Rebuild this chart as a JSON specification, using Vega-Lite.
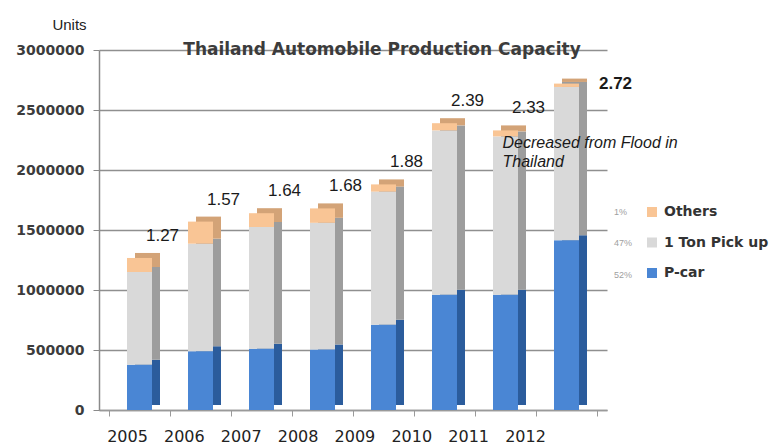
{
  "$schema": "https://vega.github.io/schema/vega-lite/v6.json",
  "autosize": "none",
  "width": 508,
  "height": 360,
  "padding": {"left": 99, "top": 50, "right": 163, "bottom": 38},
  "background": "white",
  "config": {"view": {"stroke": null}},
  "title": {
    "text": "Thailand Automobile Production Capacity",
    "font": "DejaVu Sans",
    "fontSize": 17,
    "fontWeight": "bold",
    "color": "#3c3c3c",
    "anchor": "middle",
    "dx": 29,
    "offset": -42
  },
  "datasets": {
    "parts": [
      {"year": "2005", "type": "P-car", "pct": "52%", "value": 377000},
      {"year": "2005", "type": "1 Ton Pick up", "pct": "47%", "value": 773000},
      {"year": "2005", "type": "Others", "pct": "1%", "value": 117000},
      {"year": "2006", "type": "P-car", "pct": "52%", "value": 489000},
      {"year": "2006", "type": "1 Ton Pick up", "pct": "47%", "value": 897000},
      {"year": "2006", "type": "Others", "pct": "1%", "value": 184000},
      {"year": "2007", "type": "P-car", "pct": "52%", "value": 510000},
      {"year": "2007", "type": "1 Ton Pick up", "pct": "47%", "value": 1015000},
      {"year": "2007", "type": "Others", "pct": "1%", "value": 115000},
      {"year": "2008", "type": "P-car", "pct": "52%", "value": 505000},
      {"year": "2008", "type": "1 Ton Pick up", "pct": "47%", "value": 1055000},
      {"year": "2008", "type": "Others", "pct": "1%", "value": 120000},
      {"year": "2009", "type": "P-car", "pct": "52%", "value": 710000},
      {"year": "2009", "type": "1 Ton Pick up", "pct": "47%", "value": 1110000},
      {"year": "2009", "type": "Others", "pct": "1%", "value": 60000},
      {"year": "2010", "type": "P-car", "pct": "52%", "value": 960000},
      {"year": "2010", "type": "1 Ton Pick up", "pct": "47%", "value": 1370000},
      {"year": "2010", "type": "Others", "pct": "1%", "value": 60000},
      {"year": "2011", "type": "P-car", "pct": "52%", "value": 960000},
      {"year": "2011", "type": "1 Ton Pick up", "pct": "47%", "value": 1320000},
      {"year": "2011", "type": "Others", "pct": "1%", "value": 50000},
      {"year": "2012", "type": "P-car", "pct": "52%", "value": 1414000},
      {"year": "2012", "type": "1 Ton Pick up", "pct": "47%", "value": 1278000},
      {"year": "2012", "type": "Others", "pct": "1%", "value": 28000}
    ],
    "totals": [
      {"year": "2005", "total": 1267000, "label": "1.27"},
      {"year": "2006", "total": 1570000, "label": "1.57"},
      {"year": "2007", "total": 1640000, "label": "1.64"},
      {"year": "2008", "total": 1680000, "label": "1.68"},
      {"year": "2009", "total": 1880000, "label": "1.88"},
      {"year": "2010", "total": 2390000, "label": "2.39"},
      {"year": "2011", "total": 2330000, "label": "2.33"},
      {"year": "2012", "total": 2720000, "label": "2.72"}
    ],
    "notes": [
      {"year": "2011", "y": 2290000, "note": "Decreased from Flood in\nThailand"}
    ]
  },
  "encoding": {
    "x": {
      "field": "year",
      "type": "nominal",
      "scale": {"paddingInner": 0, "paddingOuter": 0.164},
      "axis": {
        "title": null,
        "labelAngle": 0,
        "labelFont": "DejaVu Sans",
        "labelFontSize": 16,
        "labelColor": "#222222",
        "labelPadding": 12,
        "labelOffset": {"expr": "-12.5 - 4.14 * (toNumber(datum.value) - 2005)"},
        "domainColor": "#9a9a9a",
        "domainWidth": 1.5,
        "tickColor": "#9a9a9a",
        "tickBand": "extent",
        "tickSize": 6,
        "grid": false
      }
    }
  },
  "layer": [
    {
      "data": {"name": "parts"},
      "transform": [{"calculate": "indexof(['P-car','1 Ton Pick up','Others'], datum.type)", "as": "idx"}],
      "mark": {"type": "bar", "width": 25, "xOffset": 8, "x2Offset": 8, "yOffset": -5, "y2Offset": -5},
      "encoding": {
        "y": {
          "field": "value",
          "type": "quantitative",
          "stack": "zero",
          "scale": {"domain": [0, 3000000]},
          "axis": {
            "title": "Units",
            "titleAngle": 0,
            "titleX": -30,
            "titleY": -26,
            "titleAlign": "center",
            "titleBaseline": "middle",
            "titleFont": "Liberation Sans",
            "titleFontSize": 15,
            "titleFontWeight": "normal",
            "titleColor": "#222222",
            "values": [0, 500000, 1000000, 1500000, 2000000, 2500000, 3000000],
            "format": "d",
            "labelFont": "DejaVu Sans",
            "labelFontSize": 14,
            "labelFontWeight": "bold",
            "labelColor": "#3c3c3c",
            "labelPadding": 9,
            "tickSize": 6,
            "tickColor": "#8a8a8a",
            "domainColor": "#8a8a8a",
            "domainWidth": 1.5,
            "grid": true,
            "gridColor": "#8f8f8f",
            "gridWidth": 1.5
          }
        },
        "order": {"field": "idx", "type": "quantitative"},
        "color": {
          "field": "type",
          "type": "nominal",
          "scale": {"domain": ["Others", "1 Ton Pick up", "P-car"], "range": ["#d3a377", "#9d9d9d", "#2b5c9c"]},
          "legend": null
        }
      }
    },
    {
      "data": {"name": "parts"},
      "transform": [{"calculate": "indexof(['P-car','1 Ton Pick up','Others'], datum.type)", "as": "idx"}],
      "mark": {"type": "bar", "width": 25},
      "encoding": {
        "y": {"field": "value", "type": "quantitative", "stack": "zero"},
        "order": {"field": "idx", "type": "quantitative"},
        "color": {
          "field": "type",
          "type": "nominal",
          "scale": {"domain": ["Others", "1 Ton Pick up", "P-car"], "range": ["#f9c595", "#d9d9d9", "#4a86d4"]},
          "legend": {
            "title": null,
            "orient": "none",
            "legendX": 546,
            "legendY": 155,
            "direction": "vertical",
            "symbolType": "square",
            "symbolSize": 100,
            "symbolStrokeWidth": 0,
            "labelFont": "DejaVu Sans",
            "labelFontSize": 14,
            "labelFontWeight": "bold",
            "labelColor": "#333333",
            "labelOffset": 5,
            "rowPadding": 16.5
          }
        },
        "opacity": {
          "field": "pct",
          "type": "ordinal",
          "scale": {"domain": ["1%", "47%", "52%"], "range": [1, 1, 1]},
          "legend": {
            "title": null,
            "orient": "none",
            "legendX": 506,
            "legendY": 157,
            "direction": "vertical",
            "symbolSize": 0,
            "symbolStrokeWidth": 0,
            "symbolOpacity": 0,
            "labelFont": "Liberation Sans",
            "labelFontSize": 9,
            "labelColor": "#a0a0a0",
            "labelOffset": 0,
            "labelLimit": 60,
            "rowPadding": 21.5
          }
        }
      }
    },
    {
      "data": {"name": "totals"},
      "transform": [{"filter": "datum.year != '2012'"}],
      "mark": {"type": "text", "font": "Liberation Sans", "fontSize": 17, "color": "#1a1a1a", "dx": 23, "dy": -22, "baseline": "middle"},
      "encoding": {
        "y": {"field": "total", "type": "quantitative"},
        "text": {"field": "label"}
      }
    },
    {
      "data": {"name": "totals"},
      "transform": [{"filter": "datum.year == '2012'"}],
      "mark": {"type": "text", "font": "Liberation Sans", "fontSize": 17, "fontWeight": "bold", "color": "#1a1a1a", "dx": 49, "dy": 0, "baseline": "middle"},
      "encoding": {
        "y": {"field": "total", "type": "quantitative"},
        "text": {"field": "label"}
      }
    },
    {
      "data": {"name": "notes"},
      "mark": {"type": "text", "font": "Liberation Sans", "fontSize": 16, "fontStyle": "italic", "color": "#1a1a1a", "align": "left", "baseline": "top", "dx": -3, "lineBreak": "\n", "lineHeight": 19},
      "encoding": {
        "y": {"field": "y", "type": "quantitative"},
        "text": {"field": "note"}
      }
    }
  ],
  "resolve": {"scale": {"color": "independent"}}
}
